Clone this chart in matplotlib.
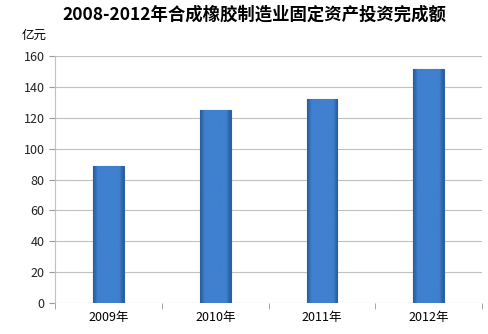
import matplotlib
matplotlib.use('Agg')
import matplotlib.pyplot as plt
import numpy as np

plt.rcParams['font.family'] = ['Noto Sans CJK SC', 'DejaVu Sans']

years = ['2009年', '2010年', '2011年', '2012年']
values = [89, 125, 132, 151.5]

fig = plt.figure(figsize=(4.88, 3.34), dpi=100)
ax = fig.add_axes([0.113, 0.093, 0.875, 0.739])

x = np.arange(len(years))
bars = ax.bar(x, values, width=0.29, color='#3f7fcc', edgecolor='#2f62a3',
              linewidth=0.8, zorder=3)

# flat middle, darker sides (bevelled look)
g = np.linspace(0, 1, 64)
shade = np.clip(np.minimum(g, 1 - g) / 0.15, 0, 1).reshape(1, -1)
cmap = matplotlib.colors.LinearSegmentedColormap.from_list(
    'b', ['#2a5a98', '#3f80cf'])
for b in bars:
    im = ax.imshow(shade, cmap=cmap, vmin=0, vmax=1, aspect='auto',
                   extent=[b.get_x(), b.get_x() + b.get_width(), 0, b.get_height()],
                   zorder=3)
    im.set_clip_path(b)

ax.set_xlim(-0.5, 3.5)
ax.set_ylim(0, 160)
ax.set_yticks(range(0, 161, 20))
ax.set_xticks(x)
ax.set_xticklabels(years, fontsize=9)
ax.tick_params(axis='y', labelsize=9, length=4, color='#999999', colors='#222222')
ax.tick_params(axis='x', length=0, pad=6)
ax.set_xticks(np.arange(-0.5, 4, 1), minor=True)
ax.tick_params(axis='x', which='minor', length=4, color='#999999')
ax.grid(axis='y', color='#c0c0c0', linewidth=0.8, zorder=0)
for s in ['top', 'right', 'bottom']:
    ax.spines[s].set_visible(False)
ax.spines['left'].set_color('#c0c0c0')

fig.text(0.522, 0.955, '2008-2012年合成橡胶制造业固定资产投资完成额',
         ha='center', va='center', fontsize=12.5, fontweight='bold')
fig.text(0.045, 0.895, '亿元', ha='left', va='center', fontsize=9)

fig.savefig('out.png', dpi=100)
